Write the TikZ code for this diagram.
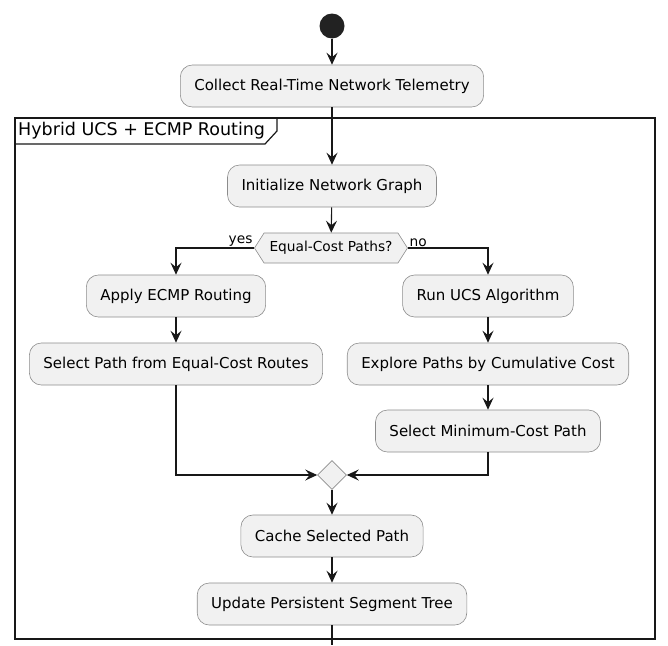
\documentclass[tikz,border=0pt]{standalone}
\usepackage{fontspec}
\setmainfont{DejaVu Sans}
\usetikzlibrary{arrows.meta,shapes.geometric,shapes.symbols}
\definecolor{actfill}{HTML}{F1F1F1}
\definecolor{actline}{HTML}{8C8C8C}
\definecolor{flowline}{HTML}{181818}
\definecolor{startfill}{HTML}{222222}

\begin{document}
\begin{tikzpicture}[x=1pt,y=-1pt]
        \tikzstyle{every node}=[font=\fontsize{15}{18}\selectfont]
        \tikzstyle{activity}=[draw=actline, fill=actfill, line width=0.6pt, rounded corners=12pt, minimum height=42pt, inner xsep=14pt]
        \tikzstyle{choice}=[draw=actline, fill=actfill, line width=0.6pt, signal, signal to=west and east, signal pointer angle=115, minimum width=153pt, minimum height=30pt, inner xsep=2pt, font=\fontsize{13.75}{16}\selectfont]
        \tikzstyle{merger}=[draw=actline, fill=actfill, line width=0.6pt, diamond, minimum width=29pt, minimum height=29pt, inner sep=0pt]
        \tikzstyle{flow}=[draw=flowline, line width=1.1pt, -{Stealth[length=12pt,width=11pt,inset=4.5pt]}]
        \tikzstyle{guard}=[font=\fontsize{13.75}{16}\selectfont, inner sep=1.5pt]
        \useasboundingbox (0,0) rectangle (668,645);

        % frame
        \draw[flowline, line width=1.5pt] (15,118) rectangle (655,639);
        \draw[flowline, line width=1.2pt] (15,144) -- (265,144) -- (277,131) -- (277,118);
        \node[anchor=west, inner sep=0pt, font=\fontsize{17.5}{20}\selectfont] (title) at (18,131) {Hybrid UCS + ECMP Routing};

        \node[circle, fill=startfill, minimum size=25pt, inner sep=0pt] (start) at (332,26) {};
        \node[activity] (collect) at (332,86) {Collect Real-Time Network Telemetry};
        \node[activity] (init) at (332,186) {Initialize Network Graph};
        \node[choice] (check) at (331,248) {Equal-Cost Paths?};

        \node[activity] (ecmp) at (176,296) {Apply ECMP Routing};
        \node[activity] (pick) at (176,364) {Select Path from Equal-Cost Routes};

        \node[activity] (ucs) at (488,296) {Run UCS Algorithm};
        \node[activity] (explore) at (488,364) {Explore Paths by Cumulative Cost};
        \node[activity] (minpath) at (488,431) {Select Minimum-Cost Path};

        \node[merger] (merge) at (332,475) {};
        \node[activity] (cache) at (332,536) {Cache Selected Path};
        \node[activity] (update) at (332,604) {Update Persistent Segment Tree};
        \coordinate (exit) at (332,645);

        \draw[flow] (start) -- (collect);
        \draw[flow] (collect) -- (init);
        \draw[flow] (init) -- (check);
        \draw[flow] (check.west) -| (ecmp.north);
        \draw[flow] (check.east) -| (ucs.north);
        \node[guard, anchor=south east] at (check.west) {yes};
        \node[guard, anchor=south west] at (check.east) {no};
        \draw[flow] (ecmp) -- (pick);
        \draw[flow] (ucs) -- (explore);
        \draw[flow] (explore) -- (minpath);
        \draw[flow] (pick.south) |- (merge.west);
        \draw[flow] (minpath.south) |- (merge.east);
        \draw[flow] (merge) -- (cache);
        \draw[flow] (cache) -- (update);
        \draw[flowline, line width=1.1pt] (update) -- (exit);
\end{tikzpicture}
\end{document}
